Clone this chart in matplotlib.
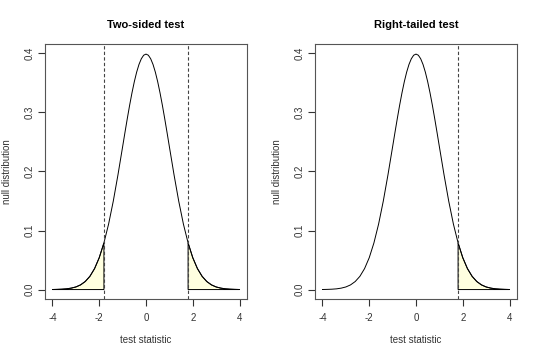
import matplotlib
matplotlib.use("Agg")
import matplotlib.pyplot as plt

plt.rcParams["font.family"] = ["Liberation Sans", "DejaVu Sans"]

# Dichtewerte der Nullverteilung (in der Mitte feiner)
x = [-4.0, -3.8, -3.6, -3.4, -3.2, -3.0, -2.8, -2.6, -2.4, -2.2, -2.0,
     -1.8, -1.6, -1.4, -1.2, -1.0, -0.9, -0.8, -0.7, -0.6, -0.5, -0.4, -0.3, -0.2, -0.1, 0.0,
     0.1, 0.2, 0.3, 0.4, 0.5, 0.6, 0.7, 0.8, 0.9, 1.0, 1.2, 1.4, 1.6, 1.8, 2.0,
     2.2, 2.4, 2.6, 2.8, 3.0, 3.2, 3.4, 3.6, 3.8, 4.0]
dichte = [0.0001, 0.0003, 0.0006, 0.0012, 0.0024, 0.0044, 0.0079, 0.0136, 0.0224, 0.0355, 0.0540,
          0.0790, 0.1109, 0.1497, 0.1942, 0.2420, 0.2661, 0.2897, 0.3123, 0.3332, 0.3521, 0.3683,
          0.3814, 0.3910, 0.3970, 0.3989,
          0.3970, 0.3910, 0.3814, 0.3683, 0.3521, 0.3332, 0.3123, 0.2897, 0.2661, 0.2420,
          0.1942, 0.1497, 0.1109, 0.0790, 0.0540,
          0.0355, 0.0224, 0.0136, 0.0079, 0.0044, 0.0024, 0.0012, 0.0006, 0.0003, 0.0001]
kritisch = 1.8

titel = ["Two-sided test", "Right-tailed test"]
xticks = [-4, -2, 0, 2, 4]
yticks = [0.0, 0.1, 0.2, 0.3, 0.4]

fig = plt.figure(figsize=(5.4, 3.55), dpi=100)
W, H = 540, 355
achsen = [fig.add_axes([45 / W, 1 - 299 / H, 202 / W, 255 / H]),
          fig.add_axes([315 / W, 1 - 299 / H, 202 / W, 255 / H])]


def flaeche(ax, xs, ys):
    # Polygon mit Basislinie bei 0, wie polygon() in R
    px = xs + [xs[-1], xs[0]]
    py = ys + [0, 0]
    ax.fill(px, py, facecolor="#FFFFE0", edgecolor="black", linewidth=0.7)


for i, ax in enumerate(achsen):
    ax.plot(x, dichte, color="black", linewidth=0.7)
    rechts_x = [v for v in x if v >= kritisch]
    rechts_y = [d for v, d in zip(x, dichte) if v >= kritisch]
    flaeche(ax, rechts_x, rechts_y)
    ax.axvline(kritisch, color="#444444", linestyle=(0, (3, 2)), linewidth=0.8)
    if i == 0:
        links_x = [v for v in x if v <= -kritisch]
        links_y = [d for v, d in zip(x, dichte) if v <= -kritisch]
        flaeche(ax, links_x, links_y)
        ax.axvline(-kritisch, color="#444444", linestyle=(0, (3, 2)), linewidth=0.8)

    ax.set_xlim(-4.32, 4.32)
    ax.set_ylim(-0.016, 0.416)
    ax.set_xticks(xticks)
    ax.set_xticklabels([str(t) for t in xticks])
    ax.set_yticks(yticks)
    ax.set_yticklabels(["%.1f" % t for t in yticks], rotation=90, va="center")
    ax.tick_params(direction="out", length=5, width=0.8, labelsize=7, colors="#333333")
    ax.tick_params(axis="x", pad=5)
    ax.tick_params(axis="y", pad=2.5)
    for s in ax.spines.values():
        s.set_linewidth(0.8)
        s.set_color("#555555")
    ax.set_title(titel[i], fontsize=8, fontweight="bold", pad=11.5)
    ax.set_xlabel("test statistic", fontsize=7, labelpad=9, color="#333333")
    ax.set_ylabel("null distribution", fontsize=7, labelpad=9, color="#333333")

fig.savefig("out.png", dpi=100)
